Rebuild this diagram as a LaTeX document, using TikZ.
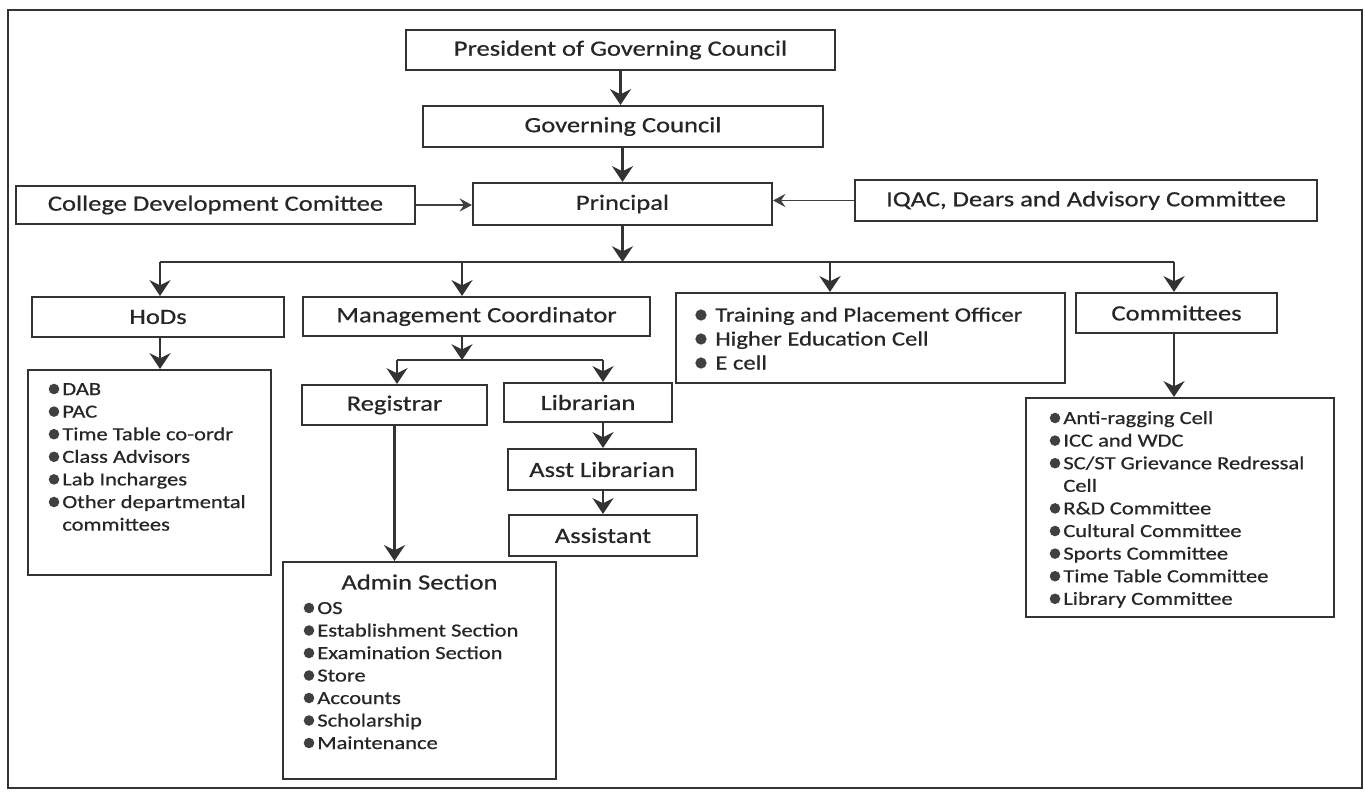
\documentclass[tikz,border=0pt]{standalone}
\usepackage{fontspec}
\setmainfont{Carlito}[FakeStretch=1.22, FakeBold=0.6]
\usepackage{tikz}
\usetikzlibrary{calc}
\usetikzlibrary{arrows.meta, positioning}

\tikzset{
	box/.style={draw=black!80, line width=1.25pt, inner sep=0pt, text=black!85, font=\fontsize{12.4}{14}\selectfont},
	sz/.style 2 args={minimum width=#1*0.02cm, minimum height=#2*0.02cm},
	arr/.style={draw=black!80, line width=1.3pt, -{Stealth[length=9pt, width=12pt, inset=3pt]}},
	thinarr/.style={draw=black!75, line width=0.9pt, -{Stealth[length=7pt, width=7.5pt, inset=2.5pt]}},
	bus/.style={draw=black!80, line width=1.3pt},
	item/.style={anchor=base west, inner sep=0pt, text=black!85, font=\fontsize{10.5}{12}\selectfont},
	bigitem/.style={item, font=\fontsize{11.5}{13}\selectfont},
	dot/.style={fill=black!75}
}

\begin{document}
\begin{tikzpicture}[x=0.02cm, y=-0.02cm]
		\useasboundingbox (0, 0) rectangle (1365, 791);
		\fill[white] (0, 0) rectangle (1365, 791);
		\draw[black!80, line width=1.2pt] (8, 10) rectangle (1362, 788);

		\node[box, sz={429}{40}] (pres) at (620.5, 50) {President of Governing Council};
		\node[box, sz={400}{41}] (gov) at (623, 126.5) {Governing Council};
		\node[box, sz={399}{38}] (cdc) at (215.5, 205) {College Development Comittee};
		\node[box, sz={299}{42}] (prin) at (622.5, 204) {Principal};
		\node[box, sz={462}{41}] (iqac) at (1086, 200.5) {IQAC, Dears and Advisory Committee};
		\node[box, sz={252}{40}] (hods) at (158, 317) {HoDs};
		\node[box, sz={347}{39}] (mgmt) at (476.5, 316.5) {Management Coordinator};
		\node[box, sz={389}{90}] (tpo) at (870.5, 338) {};
		\node[box, sz={201}{40}] (comm) at (1176.5, 313) {Committees};
		\node[box, sz={243}{205}] (hodlist) at (149.5, 472.5) {};
		\node[box, sz={185}{40}] (reg) at (394.5, 405) {Registrar};
		\node[box, sz={168}{39}] (lib) at (588, 402.5) {Librarian};
		\node[box, sz={188}{41}] (alib) at (602, 469.5) {Asst Librarian};
		\node[box, sz={188}{41}] (asst) at (603, 535.5) {Assistant};
		\node[box, sz={273}{217}] (admin) at (419.5, 670.5) {};
		\node[box, sz={308}{219}] (commlist) at (1180, 507.5) {};
		\node[box, draw=none] (admintitle) at (419.5, 582) {Admin Section};

		\coordinate (busl) at (160, 262);
		\coordinate (busr) at (1174, 262);
		\coordinate (bmgmt) at (462, 262);
		\coordinate (btpo) at (830, 262);
		\coordinate (sbl) at (397, 360);
		\coordinate (sbr) at (603, 360);

		\draw[arr] (pres.south) -- (pres.south |- gov.north);
		\draw[arr] (gov.south -| prin.north) -- (prin.north);
		\draw[thinarr] (cdc.east) -- (cdc.east -| prin.west);
		\draw[thinarr] (iqac.west) -- (iqac.west -| prin.east);
		\draw[arr] (prin.south) -- (prin.south |- busl);
		\draw[bus] (busl) -- (busr);
		\draw[arr] (busl) -- (busl |- hods.north);
		\draw[arr] (bmgmt) -- (bmgmt |- mgmt.north);
		\draw[arr] (btpo) -- (btpo |- tpo.north);
		\draw[arr] (busr) -- (busr |- comm.north);
		\draw[arr] (busl |- hods.south) -- (busl |- hodlist.north);
		\draw[arr] (bmgmt |- mgmt.south) -- (bmgmt |- sbl);
		\draw[bus] (sbl) -- (sbr);
		\draw[arr] (sbl) -- (sbl |- reg.north);
		\draw[arr] (sbr) -- (sbr |- lib.north);
		\draw[arr] (sbr |- lib.south) -- (sbr |- alib.north);
		\draw[arr] (sbr |- alib.south) -- (sbr |- asst.north);
		\draw[arr, line width=1.6pt] (reg.south) -- (reg.south |- admin.north);
		\draw[arr] (busr |- comm.south) -- (busr |- commlist.north);

		\foreach \t [count=\i] in {Training and Placement Officer, Higher Education Cell, E cell}
			\node[bigitem] (tpoi\i) at (715, {321.5+(\i-1)*24}) {\t};
		\foreach \i in {1,2,3}
			\fill[dot] (701, {315+(\i-1)*24}) circle (3.2pt);

		\foreach \t [count=\i] in {DAB, PAC, Time Table co-ordr, Class Advisors, Lab Incharges, Other departmental, committees}
			\node[item] (hodi\i) at (62, {395+(\i-1)*22.6}) {\t};
		\foreach \i in {1,...,6}
			\fill[dot] (54, {389+(\i-1)*22.6}) circle (3pt);

		\foreach \t [count=\i] in {OS, Establishment Section, Examination Section, Store, Accounts, Scholarship, Maintenance}
			\node[item] (admi\i) at (317, {614+(\i-1)*22.5}) {\t};
		\foreach \i in {1,...,7}
			\fill[dot] (309, {608+(\i-1)*22.5}) circle (3pt);

		\foreach \t [count=\i] in {Anti-ragging Cell, ICC and WDC, SC/ST Grievance Redressal, Cell, R\&D Committee, Cultural Committee, Sports Committee, Time Table Committee, Library Committee}
			\node[item] (commi\i) at (1063, {424+(\i-1)*22.6}) {\t};
		\foreach \i in {1,2,3,5,6,7,8,9}
			\fill[dot] (1055, {418+(\i-1)*22.6}) circle (3pt);
\end{tikzpicture}
\end{document}
